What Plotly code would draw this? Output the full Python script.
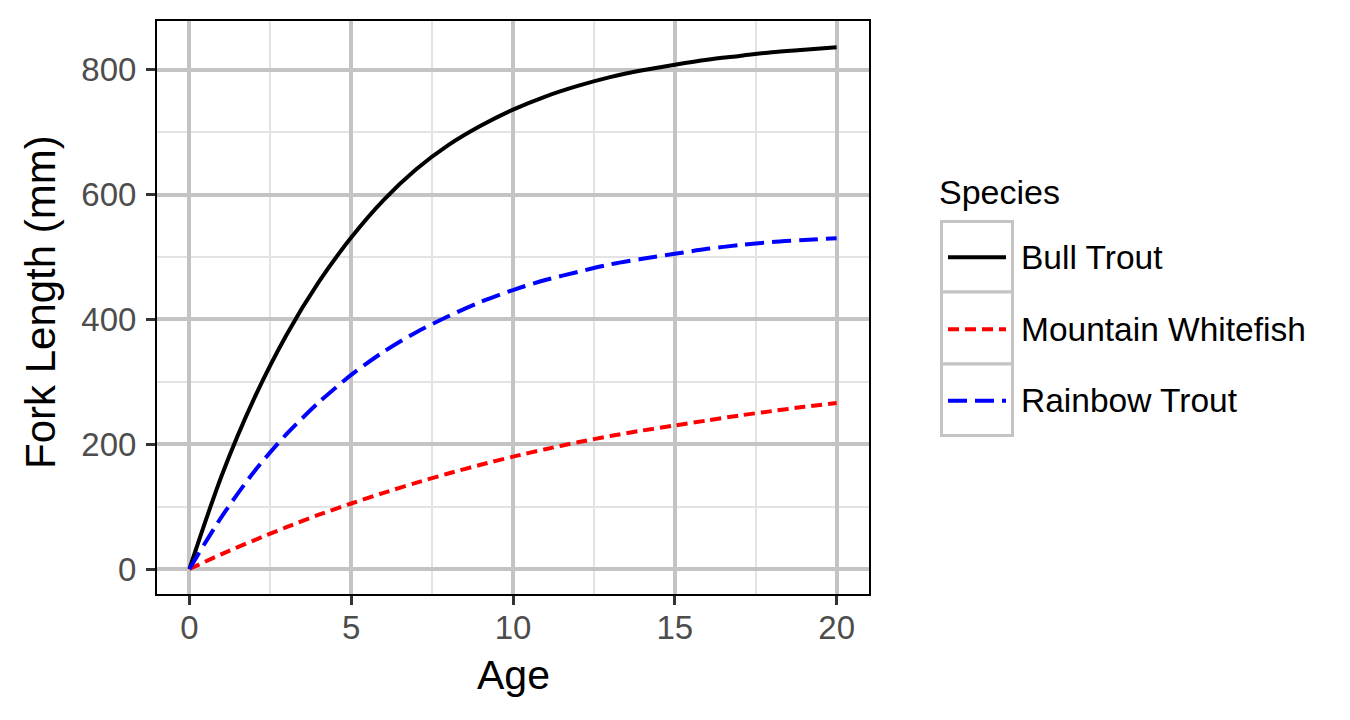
import plotly.graph_objects as go

# ---- data ----
ages = list(range(0, 21))
bull_trout = [0, 150, 273, 375, 460, 531, 591, 640, 679, 710, 736,
              757, 774, 788, 799, 808, 816, 822, 828, 832, 836]
mountain_whitefish = [0, 24, 46, 67, 87, 105, 122, 138, 153, 167, 180,
                      192, 203, 213, 222, 230, 238, 246, 253, 260, 266]
rainbow_trout = [0, 84, 156, 216, 267, 311, 348, 379, 405, 428, 447,
                 463, 476, 488, 497, 505, 513, 519, 524, 527, 530]

species = ["Bull Trout", "Mountain Whitefish", "Rainbow Trout"]
series = [bull_trout, mountain_whitefish, rainbow_trout]
colors = ["#000000", "#FF0000", "#0000FF"]
dashes = ["solid", "11px,6px", "19px,8px"]

x_ticks = [0, 5, 10, 15, 20]
y_ticks = [0, 200, 400, 600, 800]

# ---- layout geometry (page pixels; the page body adds an 8px offset) ----
OFF = 8
W, H = 1350, 720
L, R, T, B = 157 - OFF, 869 - OFF, 21 - OFF, 594 - OFF


def px(xp):
    return (xp - OFF - L) / (R - L)


def py(yp):
    return (B - (yp - OFF)) / (B - T)


FONT = "Liberation Sans, Arial, Helvetica, sans-serif"
LW = 4

fig = go.Figure()
for name, vals, col, dsh in zip(species, series, colors, dashes):
    fig.add_trace(go.Scatter(
        x=ages, y=vals, mode="lines", name=name,
        line=dict(color=col, width=LW, dash=dsh, shape="spline", smoothing=0.8),
        showlegend=False,
    ))

grid_major = "#C4C4C4"
grid_minor = "#E3E3E3"

fig.update_layout(
    width=W, height=H,
    margin=dict(l=L, r=W - R, t=T, b=H - B, pad=0),
    paper_bgcolor="white", plot_bgcolor="white",
    font=dict(family=FONT, color="#000000"),
    xaxis=dict(
        range=[-1, 21], tickvals=x_ticks, ticktext=[str(v) for v in x_ticks],
        showgrid=True, gridcolor=grid_major, gridwidth=3.6,
        minor=dict(tickvals=[2.5, 7.5, 12.5, 17.5], showgrid=True,
                   gridcolor=grid_minor, gridwidth=1.6, ticks=""),
        zeroline=False, showline=True, mirror=True, linecolor="#000000", linewidth=2,
        ticks="outside", ticklen=9, tickwidth=3, tickcolor="#333333",
        tickfont=dict(family=FONT, size=33, color="#4D4D4D"),
        ticklabelstandoff=-6,
    ),
    yaxis=dict(
        range=[-40, 878], tickvals=y_ticks, ticktext=[str(v) for v in y_ticks],
        showgrid=True, gridcolor=grid_major, gridwidth=3.6,
        minor=dict(tickvals=[100, 300, 500, 700], showgrid=True,
                   gridcolor=grid_minor, gridwidth=1.6, ticks=""),
        zeroline=False, showline=True, mirror=True, linecolor="#000000", linewidth=2,
        ticks="outside", ticklen=9, tickwidth=3, tickcolor="#333333",
        tickfont=dict(family=FONT, size=33, color="#4D4D4D"),
        ticklabelstandoff=3,
    ),
)

annotations = [
    dict(text="Age", x=px(513), y=py(675), xref="paper", yref="paper",
         xanchor="center", yanchor="middle", showarrow=False,
         font=dict(family=FONT, size=41, color="#000000")),
    dict(text="Fork Length (mm)", x=px(40), y=py(302), xref="paper", yref="paper",
         xanchor="center", yanchor="middle", textangle=-90, showarrow=False,
         font=dict(family=FONT, size=42, color="#000000")),
    dict(text="Species", x=px(937), y=py(192), xref="paper", yref="paper",
         xanchor="left", yanchor="middle", showarrow=False,
         font=dict(family=FONT, size=34, color="#000000")),
]

shapes = []
rows = [(221.5, 292), (292, 364), (364, 435.5)]
centers = [257.3, 329.3, 400.7]
for (y0, y1) in rows:
    shapes.append(dict(type="rect", xref="paper", yref="paper",
                       x0=px(941.5), x1=px(1012.5), y0=py(y1), y1=py(y0),
                       line=dict(color="#C4C4C4", width=3), fillcolor="white",
                       layer="below"))
for cy, name, col, dsh in zip(centers, species, colors, dashes):
    shapes.append(dict(type="line", xref="paper", yref="paper",
                       x0=px(948), x1=px(1006), y0=py(cy), y1=py(cy),
                       line=dict(color=col, width=LW, dash=dsh)))
    annotations.append(dict(text=name, x=px(1019), y=py(cy), xref="paper", yref="paper",
                            xanchor="left", yanchor="middle", showarrow=False,
                            font=dict(family=FONT, size=33.5, color="#000000")))

fig.update_layout(annotations=annotations, shapes=shapes)

fig.write_html("out.html")
